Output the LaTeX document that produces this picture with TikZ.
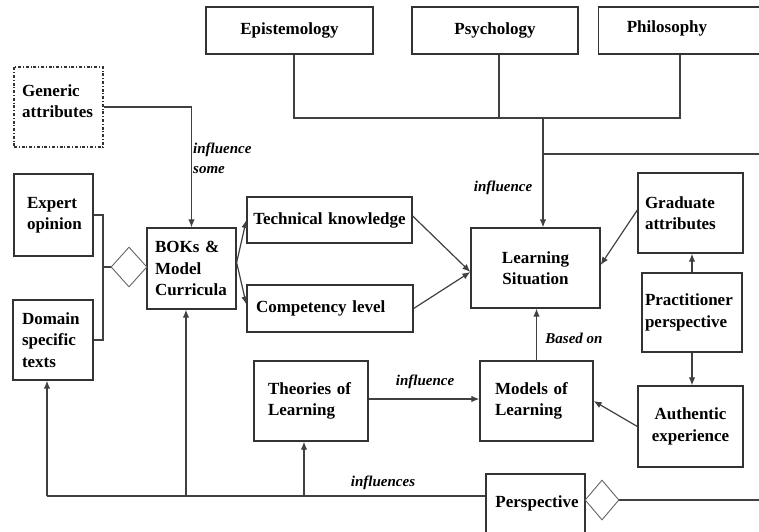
\documentclass[tikz,border=0pt]{standalone}
\usepackage{fontspec}
\setmainfont{Liberation Serif}
\usetikzlibrary{arrows.meta,shapes.geometric}
\begin{document}
\begin{tikzpicture}[x=1pt,y=-1pt,
  box/.style={draw=black!80, line width=1.3pt, rectangle, font=\fontsize{17}{21.5}\selectfont\bfseries, inner ysep=0pt},
  txt/.style={font=\fontsize{17}{21.5}\selectfont\bfseries, inner sep=0pt, align=left},
  lbl/.style={font=\fontsize{15}{20}\selectfont\bfseries\itshape, inner sep=0pt, align=left},
  ln/.style={draw=black!75, line width=1.2pt},
  arr/.style={ln, arrows={-Latex[length=8pt, width=6.5pt]}},
  dmd/.style={diamond, draw=black!60, line width=0.9pt, inner sep=0pt}]
\useasboundingbox (0,0) rectangle (759,531);
\clip (0,0) rectangle (759,531);
\fill[white] (0,0) rectangle (759,531);

% top boxes
\node[box, minimum width=167pt, minimum height=47pt] (epi) at (289.5,30.5) {Epistemology};
\node[box, minimum width=166pt, minimum height=47pt] (psy) at (495,30.5) {Psychology};
\node[box, minimum width=180pt, minimum height=47pt, anchor=west] (phi) at (598,30.5) {};
\node[txt] (phit) at (667,28) {Philosophy};

% left boxes
\node[box, dash pattern=on 3pt off 1.8pt on 1pt off 1.8pt, line width=1.1pt, minimum width=89pt, minimum height=80pt] (gen) at (58.5,107) {};
\node[txt, anchor=west] (gent) at (22,101) {Generic\\attributes};
\node[box, align=left, text width=53pt, inner xsep=13pt, minimum height=82pt] (exp) at (53.5,215) {Expert\\opinion};
\node[box, align=left, text width=62pt, inner xsep=9pt, minimum height=80pt] (dom) at (53,340) {Domain\\specific\\texts};
\node[box, align=left, text width=73pt, inner xsep=8pt, minimum height=81pt] (bok) at (191.5,268.5) {BOKs \&\\Model\\Curricula};
\node[dmd, minimum width=36pt, minimum height=40pt] (dia1) at (129,267) {};

% middle boxes
\node[box, align=center, text width=161pt, inner xsep=2pt, minimum height=46pt] (tech) at (329.5,220) {Technical knowledge};
\node[box, align=left, text width=148pt, inner xsep=9pt, minimum height=47pt] (comp) at (330,308.5) {Competency level};
\node[box, align=center, text width=119pt, inner xsep=5pt, minimum height=80pt] (ls) at (535.5,268) {Learning\\Situation};
\node[box, align=left, text width=86pt, inner xsep=14pt, minimum height=80pt] (theo) at (311,401) {Theories of\\Learning};
\node[box, align=left, text width=83pt, inner xsep=15pt, minimum height=80pt] (mod) at (536.5,401) {Models of\\Learning};

% right boxes
\node[box, align=left, text width=91pt, inner xsep=7pt, minimum height=80pt] (grad) at (690.5,213) {Graduate\\attributes};
\node[box, align=left, text width=94pt, inner xsep=3pt, minimum height=79pt] (prac) at (692,312.5) {Practitioner\\perspective};
\node[box, align=center, text width=95pt, inner xsep=5pt, minimum height=81pt] (auth) at (690.5,426.5) {Authentic\\experience};

% bottom
\node[box, minimum width=99pt, minimum height=80pt] (persp) at (535.5,514) {};
\node[txt] (perspt) at (537,503) {Perspective};
\node[dmd, minimum width=34pt, minimum height=40pt] (dia2) at (602,500) {};

% junction coordinates
\coordinate (jE) at (294,118);
\coordinate (jP) at (499,118);
\coordinate (jF) at (680,118);
\coordinate (jL) at (543,118);
\coordinate (jR) at (543,154);
\coordinate (eR) at (765,154);
\coordinate (jX) at (103,267);
\coordinate (bL) at (47,496);
\coordinate (bB) at (186,496);
\coordinate (bT) at (304,496);
\coordinate (eD) at (765,500);

% top tree
\draw[ln] (epi.south -| jE) -- (jE) -- (jF) -- (phi.south -| jF);
\draw[ln] (psy.south -| jP) -- (jP);
\draw[arr] (jL) -- (ls.north -| jL);
\draw[ln] (jR) -- (eR);

% generic attributes
\draw[arr] (gen.east) -| (bok.north);

% expert / domain to diamond
\draw[ln] (exp.east) -| (jX) |- (dom.east);
\draw[ln] (jX) -- (dia1.west);

% BOK to tech / comp
\draw[arr] ([yshift=6pt]bok.east) -- (tech.west);
\draw[arr] ([yshift=6pt]bok.east) -- ([yshift=4pt]comp.west);

% to learning situation
\draw[arr] ([yshift=4pt]tech.east) -- ([yshift=-4pt]ls.west);
\draw[arr] (comp.east) -- ([yshift=-4pt]ls.west);
\draw[arr] ([yshift=3pt]grad.west) -- ([yshift=3pt]ls.east);
\draw[arr] (mod.north) -- (mod.north |- ls.south);

% practitioner
\draw[arr] (prac.north) -- (prac.north |- grad.south);
\draw[arr] (prac.south) -- (prac.south |- auth.north);
\draw[arr] (auth.west) -- (mod.east);

% theories to models
\draw[arr] ([yshift=2pt]theo.east) -- ([yshift=2pt]mod.west);

% bottom line
\draw[ln] (persp.west |- bL) -- (bL);
\draw[arr] (bL) -- (dom.south -| bL);
\draw[arr] (bB) -- (bok.south -| bB);
\draw[arr] (bT) -- (theo.south -| bT);
\draw[ln] (dia2.east) -- (eD);

% labels
\node[lbl, anchor=west] (l1) at (193,158) {influence\\some};
\node[lbl] (l2) at (503,188) {influence};
\node[lbl] (l3) at (425,382) {influence};
\node[lbl] (l4) at (574,338) {Based on};
\node[lbl] (l5) at (383,483) {influences};
\end{tikzpicture}
\end{document}
